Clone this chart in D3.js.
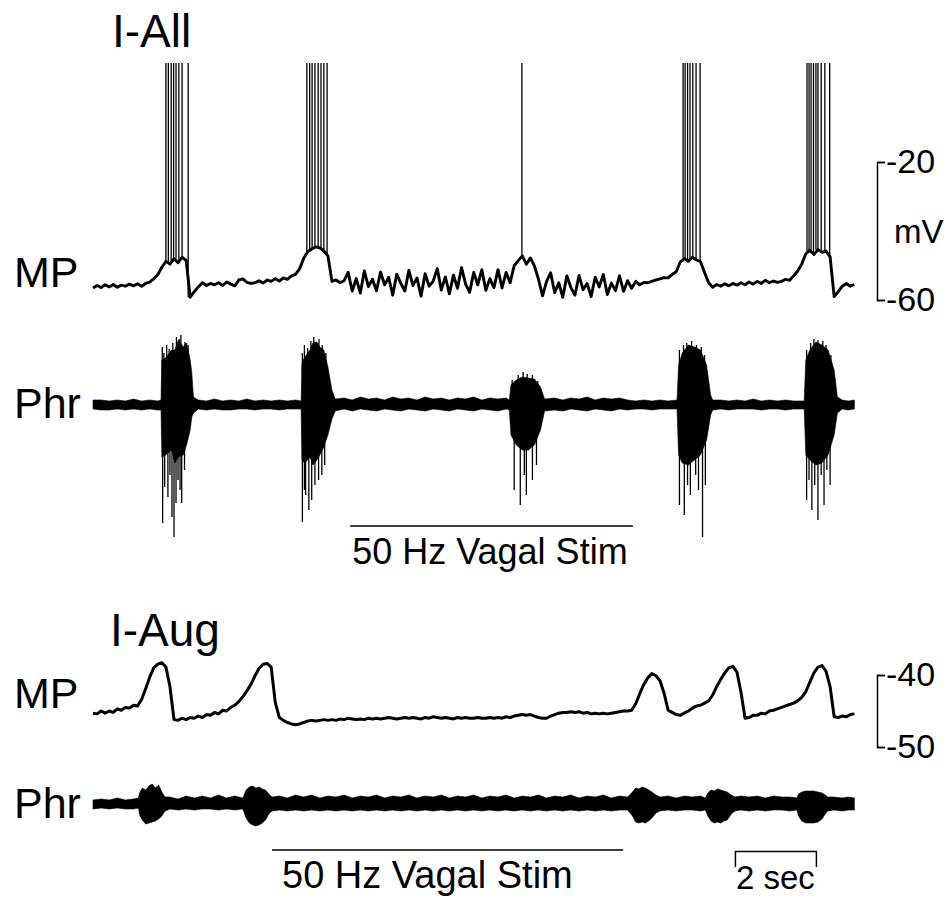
<!DOCTYPE html>
<html>
<head>
<meta charset="utf-8">
<script src="https://cdn.jsdelivr.net/npm/d3@7"></script>
<style>
    body { margin: 0; background: #fff; }
    svg text { font-family: "Liberation Sans", Arial, Helvetica, sans-serif; fill: #000; }
</style>
</head>
<body>
<div id="figure"></div>
<script>
// recordings are shown as samples every 0.1 s (MP) and as min/max envelopes (Phr)
const SAMPLE_DT = 0.1;
const TOTAL_SEC = 18.8;

// I-All membrane potential, mV
const iAllMP = [
    -56.5,-55.8,-56.4,-55.6,-56.2,-55.5,-56.3,-55.7,-56.0,-55.4,
    -55.9,-55.3,-56.0,-55.2,-54.8,-53.9,-52.6,-50.5,-48.8,-49.6,
    -48.0,-49.2,-47.6,-48.5,-59.2,-57.6,-56.2,-55.0,-55.8,-55.2,
    -55.6,-55.0,-55.8,-54.8,-55.4,-55.9,-54.2,-53.9,-54.9,-55.2,
    -55.0,-54.4,-55.1,-54.2,-54.6,-53.8,-54.5,-53.6,-54.0,-53.0,
    -52.6,-51.0,-48.0,-46.0,-45.2,-44.6,-44.9,-45.8,-47.2,-54.6,
    -54.2,-55.0,-54.4,-52.0,-57.4,-53.8,-58.0,-51.6,-56.1,-54.0,
    -57.3,-51.9,-55.6,-53.4,-58.6,-52.5,-55.2,-57.4,-51.4,-55.8,
    -53.6,-58.9,-52.4,-56.0,-54.5,-50.9,-57.1,-53.3,-58.2,-52.8,
    -56.6,-50.6,-55.4,-57.8,-52.0,-55.6,-51.2,-57.2,-53.8,-56.4,
    -51.2,-56.5,-52.0,-55.0,-50.0,-48.6,-47.2,-49.6,-47.8,-50.2,
    -54.0,-58.8,-54.6,-52.1,-57.9,-55.0,-59.2,-53.0,-56.4,-58.6,
    -52.9,-57.0,-55.2,-59.0,-53.4,-56.2,-52.6,-58.4,-55.1,-57.3,
    -53.0,-57.5,-54.4,-56.6,-54.6,-55.6,-54.9,-55.0,-54.6,-54.2,
    -53.9,-53.5,-53.6,-52.6,-51.8,-49.0,-48.0,-48.8,-47.6,-48.4,
    -48.9,-52.0,-55.0,-56.3,-55.5,-56.0,-55.3,-55.9,-55.2,-55.7,
    -55.0,-55.6,-54.8,-55.4,-54.6,-55.2,-54.3,-55.0,-54.5,-54.9,
    -54.6,-54.0,-54.3,-53.0,-51.6,-49.6,-46.6,-45.6,-46.8,-45.4,
    -46.2,-45.8,-47.5,-59.0,-57.6,-56.0,-55.2,-56.0,-55.5
];

// I-All action potentials: times (s), peak clipped at the top of the trace
const iAllSpikes = [
    1.80, 1.86, 1.93, 1.99, 2.05, 2.12, 2.20, 2.35,
    5.28, 5.35, 5.41, 5.48, 5.56, 5.63, 5.70, 5.78,
    10.59,
    14.57, 14.62, 14.68, 14.74, 14.81, 14.89, 14.99,
    17.63, 17.68, 17.73, 17.79, 17.85, 17.90, 17.98, 18.07, 18.19
];
const SPIKE_PEAK = 8.7;

// I-All phrenic nerve: [time s, max, min] in arbitrary units
const iAllPhr = [
    [0.0,5,-4],[0.2,5,-5],[0.4,4,-5],[0.6,5,-4],[0.8,4,-5],[1.0,6,-4],[1.2,4,-5],[1.4,5,-4],[1.6,4,-5],[1.68,5,-5],
    [1.70,45,-52],[1.79,47,-50],[1.94,55,-45],[2.02,55,-58],[2.11,65,-52],[2.23,58,-50],[2.31,62,-40],[2.40,45,-25],[2.44,32,-12],[2.48,8,-8],
    [2.6,5,-4],[2.8,4,-5],[3.0,6,-4],[3.2,4,-5],[3.4,5,-5],[3.6,4,-4],[3.8,6,-4],[4.0,4,-5],[4.2,5,-4],[4.4,4,-4],[4.6,5,-5],[4.8,4,-4],[5.0,5,-4],[5.14,4,-4],
    [5.16,42,-55],[5.23,48,-58],[5.36,55,-52],[5.43,62,-60],[5.53,63,-55],[5.60,58,-50],[5.70,55,-42],[5.80,38,-30],[5.90,15,-14],[5.98,6,-6],
    [6.2,7,-4],[6.4,5,-6],[6.6,8,-4],[6.8,6,-5],[7.0,7,-6],[7.2,5,-4],[7.4,8,-5],[7.6,6,-6],[7.8,7,-4],[8.0,5,-5],[8.2,8,-6],[8.4,6,-4],
    [8.6,7,-5],[8.8,5,-6],[9.0,7,-4],[9.2,6,-5],[9.4,8,-6],[9.6,5,-4],[9.8,7,-5],[10.0,6,-6],[10.2,7,-4],[10.28,5,-5],
    [10.32,20,-30],[10.45,25,-40],[10.6,28,-45],[10.75,27,-45],[10.9,26,-40],[11.05,18,-25],[11.15,6,-6],
    [11.4,7,-5],[11.6,5,-6],[11.8,7,-4],[12.0,6,-5],[12.2,8,-6],[12.4,5,-4],[12.6,7,-5],[12.8,6,-6],[13.0,7,-4],[13.2,5,-5],
    [13.4,4,-4],[13.6,5,-4],[13.8,4,-5],[14.0,5,-4],[14.2,4,-4],[14.42,5,-4],
    [14.46,40,-50],[14.55,52,-58],[14.7,60,-60],[14.85,58,-55],[15.0,55,-50],[15.15,40,-35],[15.25,10,-10],[15.3,5,-5],
    [15.5,5,-4],[15.7,4,-5],[15.9,5,-4],[16.1,4,-4],[16.3,6,-4],[16.5,4,-5],[16.7,5,-4],[16.9,4,-4],[17.1,5,-5],[17.3,4,-4],[17.56,4,-4],
    [17.6,45,-50],[17.7,55,-55],[17.85,63,-60],[18.0,60,-58],[18.15,55,-50],[18.3,35,-30],[18.38,8,-8],
    [18.5,5,-4],[18.65,4,-5],[18.8,5,-4]
];

// single large phrenic deflections inside the bursts: [time s, amplitude]
const iAllPhrSpikes = [
    [1.71,58],[1.75,52],[1.82,60],[1.88,56],[1.97,62],[2.06,68],[2.13,66],[2.17,70],[2.27,63],[2.35,60],
    [1.72,-118],[1.77,-82],[1.85,-92],[1.90,-70],[1.95,-112],[2.00,-132],[2.05,-98],[2.10,-75],[2.15,-85],[2.19,-98],[2.26,-65],
    [5.17,52],[5.22,60],[5.30,57],[5.38,64],[5.45,68],[5.50,62],[5.58,66],[5.66,60],[5.75,52],
    [5.17,-117],[5.22,-85],[5.25,-90],[5.33,-105],[5.40,-95],[5.48,-80],[5.57,-75],[5.65,-70],[5.72,-60],
    [10.35,25],[10.5,30],[10.62,33],[10.72,31],[10.85,30],[10.98,24],
    [10.40,-85],[10.55,-100],[10.65,-70],[10.70,-90],[10.85,-75],[10.95,-60],
    [14.48,55],[14.58,60],[14.66,62],[14.78,64],[14.9,60],[15.02,58],[15.1,50],
    [14.48,-100],[14.60,-110],[14.68,-80],[14.75,-90],[14.88,-70],[14.95,-85],[15.05,-132],[15.12,-80],
    [17.62,55],[17.72,62],[17.8,66],[17.9,65],[18.02,64],[18.1,60],[18.22,50],
    [17.62,-95],[17.68,-75],[17.75,-105],[17.82,-80],[17.90,-115],[17.98,-70],[18.05,-100],[18.12,-65],[18.20,-80]
];

// I-Aug membrane potential, mV
const iAugMP = [
    -45.3,-45.4,-45.0,-45.3,-45.0,-45.2,-44.7,-44.9,-44.5,-44.6,
    -44.2,-44.3,-43.4,-41.9,-40.3,-39.0,-38.5,-38.3,-38.9,-41.6,
    -46.2,-46.3,-46.0,-46.2,-45.9,-46.0,-45.7,-45.9,-45.5,-45.6,
    -45.2,-45.4,-44.9,-45.0,-44.5,-44.2,-43.7,-43.0,-42.2,-41.3,
    -40.1,-39.1,-38.5,-38.4,-38.9,-43.8,-45.9,-46.3,-46.6,-46.8,
    -46.9,-46.8,-46.6,-46.4,-46.3,-46.4,-46.3,-46.2,-46.3,-46.2,
    -46.3,-46.1,-46.2,-46.0,-46.1,-46.2,-46.1,-46.2,-46.0,-46.1,
    -46.0,-46.1,-46.0,-45.9,-46.0,-46.1,-46.0,-45.9,-46.0,-45.9,
    -46.0,-46.1,-45.9,-46.0,-45.8,-45.9,-46.0,-45.9,-46.0,-46.1,
    -45.9,-46.0,-45.9,-46.0,-46.0,-45.9,-46.0,-46.0,-45.9,-46.0,
    -45.9,-46.0,-45.8,-45.9,-45.7,-45.6,-45.5,-45.6,-45.5,-45.7,
    -45.9,-46.0,-46.0,-45.7,-45.5,-45.3,-45.2,-45.2,-45.1,-45.2,
    -45.1,-45.3,-45.2,-45.4,-45.3,-45.4,-45.3,-45.4,-45.3,-45.2,
    -45.1,-45.0,-45.0,-44.9,-44.0,-42.6,-41.3,-40.4,-39.8,-40.1,
    -40.8,-42.5,-44.9,-45.2,-45.5,-45.6,-45.3,-45.0,-44.6,-44.3,
    -44.2,-43.9,-43.6,-42.8,-41.6,-40.6,-39.7,-39.0,-38.8,-39.6,
    -42.4,-46.0,-45.9,-45.6,-45.6,-45.3,-45.4,-45.0,-44.9,-44.7,
    -44.5,-44.3,-44.1,-43.9,-43.6,-43.1,-42.3,-41.0,-39.7,-38.9,
    -38.7,-39.5,-41.6,-45.8,-45.9,-45.7,-45.8,-45.5,-45.4
];

// I-Aug phrenic nerve: [time s, max, min] in arbitrary units
const iAugPhr = [
    [0.0,4,-5],[0.2,5,-4],[0.4,4,-5],[0.6,6,-4],[0.8,4,-5],[1.0,5,-5],[1.12,6,-4],
    [1.16,12,-12],[1.22,16,-16],[1.30,14,-20],[1.38,18,-19],[1.46,20,-18],[1.54,16,-17],[1.62,19,-15],[1.70,12,-12],[1.78,7,-7],
    [1.9,7,-5],[2.1,5,-6],[2.3,8,-5],[2.5,6,-6],[2.7,8,-5],[2.9,6,-5],[3.1,9,-6],[3.3,6,-5],[3.5,8,-6],[3.7,6,-5],
    [3.78,14,-14],[3.86,17,-19],[3.94,18,-21],[4.02,16,-22],[4.10,17,-21],[4.18,15,-19],[4.26,14,-16],[4.34,10,-10],[4.42,7,-7],
    [4.6,8,-6],[4.8,6,-7],[5.0,9,-6],[5.2,7,-7],[5.4,9,-6],[5.6,6,-7],[5.8,8,-6],[6.0,7,-7],[6.2,9,-6],[6.4,6,-7],
    [6.6,8,-6],[6.8,7,-7],[7.0,9,-6],[7.2,6,-7],[7.4,8,-6],[7.6,7,-7],[7.8,9,-6],[8.0,6,-7],[8.2,8,-6],[8.4,7,-7],
    [8.6,9,-6],[8.8,6,-7],[9.0,8,-6],[9.2,7,-7],[9.4,9,-6],[9.6,6,-7],[9.8,8,-6],[10.0,7,-7],[10.2,9,-6],[10.4,6,-7],
    [10.6,8,-6],[10.8,7,-7],[11.0,9,-6],[11.2,6,-7],[11.4,8,-6],[11.6,7,-7],[11.8,9,-6],[12.0,6,-7],[12.2,8,-6],[12.4,7,-7],
    [12.6,9,-6],[12.8,6,-7],[13.0,8,-6],[13.2,7,-6],
    [13.32,12,-12],[13.40,16,-18],[13.48,15,-19],[13.56,17,-18],[13.64,16,-19],[13.72,14,-17],[13.80,12,-14],[13.90,9,-9],[14.0,7,-7],
    [14.2,8,-6],[14.4,6,-7],[14.6,8,-6],[14.8,7,-6],[15.0,8,-7],[15.12,6,-6],
    [15.18,11,-12],[15.26,14,-17],[15.34,13,-19],[15.42,15,-18],[15.50,14,-19],[15.58,13,-17],[15.66,12,-16],[15.76,9,-10],[15.85,7,-7],
    [16.0,8,-6],[16.2,7,-7],[16.4,8,-6],[16.6,6,-7],[16.8,8,-6],[17.0,7,-6],[17.2,7,-7],[17.38,6,-6],
    [17.42,10,-12],[17.50,12,-17],[17.60,13,-19],[17.70,13,-19],[17.80,13,-19],[17.90,12,-18],[18.00,11,-15],[18.08,9,-10],[18.14,7,-7],
    [18.3,7,-6],[18.5,6,-7],[18.65,7,-6],[18.8,6,-6]
];

// stimulus periods and scale bars
const stimAll = [6.35, 13.33];
const stimAug = [4.42, 13.09];
const timeBar = [15.85, 17.85];
const mvBarAll = [-60, -20];
const mvBarAug = [-50, -40];

class RecordingFigure {
    constructor(parentElement) {
        this.parentElement = parentElement;
        this.initVis();
    }

    initVis() {
        let vis = this;

        vis.width = 951;
        vis.height = 897;

        vis.svg = d3.select("#" + vis.parentElement).append("svg")
            .attr("width", vis.width)
            .attr("height", vis.height);

        // one time axis for both panels
        vis.x = d3.scaleLinear().domain([0, TOTAL_SEC]).range([93, 854.4]);

        vis.yMpAll = d3.scaleLinear().domain(mvBarAll).range([300, 162]);
        vis.yPhrAll = d3.scaleLinear().domain([-100, 100]).range([505, 305]);
        vis.yMpAug = d3.scaleLinear().domain(mvBarAug).range([747, 675]);
        vis.yPhrAug = d3.scaleLinear().domain([-100, 100]).range([904, 704]);

        vis.drawTraces();
        vis.drawLabels();
        vis.drawBars();
    }

    mpLine(y) {
        let vis = this;
        return d3.line()
            .x((d, i) => vis.x(i * SAMPLE_DT))
            .y(d => y(d));
    }

    phrArea(y) {
        let vis = this;
        return d3.area()
            .x(d => vis.x(d[0]))
            .y0(d => y(d[2]))
            .y1(d => y(d[1]));
    }

    drawTraces() {
        let vis = this;

        // I-All spikes first, MP drawn on top
        vis.svg.append("g").selectAll("line")
            .data(iAllSpikes)
            .join("line")
            .attr("x1", d => vis.x(d))
            .attr("x2", d => vis.x(d))
            .attr("y1", d => vis.yMpAll(iAllMP[Math.round(d / SAMPLE_DT)]))
            .attr("y2", vis.yMpAll(SPIKE_PEAK))
            .attr("stroke", "#000")
            .attr("stroke-width", 1.3);

        vis.svg.append("path")
            .datum(iAllMP)
            .attr("d", vis.mpLine(vis.yMpAll))
            .attr("fill", "none")
            .attr("stroke", "#000")
            .attr("stroke-width", 2.9)
            .attr("stroke-linejoin", "round");

        vis.svg.append("path")
            .datum(iAllPhr)
            .attr("d", vis.phrArea(vis.yPhrAll))
            .attr("fill", "#000")
            .attr("stroke", "#000")
            .attr("stroke-width", 0.6);

        vis.svg.append("g").selectAll("line")
            .data(iAllPhrSpikes)
            .join("line")
            .attr("x1", d => vis.x(d[0]))
            .attr("x2", d => vis.x(d[0]))
            .attr("y1", vis.yPhrAll(0))
            .attr("y2", d => vis.yPhrAll(d[1]))
            .attr("stroke", "#000")
            .attr("stroke-width", 1.3);

        vis.svg.append("path")
            .datum(iAugMP)
            .attr("d", vis.mpLine(vis.yMpAug))
            .attr("fill", "none")
            .attr("stroke", "#000")
            .attr("stroke-width", 3)
            .attr("stroke-linejoin", "round");

        vis.svg.append("path")
            .datum(iAugPhr)
            .attr("d", vis.phrArea(vis.yPhrAug))
            .attr("fill", "#000")
            .attr("stroke", "#000")
            .attr("stroke-width", 0.6);
    }

    drawLabels() {
        let vis = this;

        const labels = [
            {text: "I-All", x: 112, y: 47, size: 46},
            {text: "MP", x: 14, y: 287, size: 43},
            {text: "Phr", x: 14, y: 418, size: 43},
            {text: "I-Aug", x: 110, y: 646, size: 46},
            {text: "MP", x: 14, y: 708, size: 43},
            {text: "Phr", x: 14, y: 818, size: 43}
        ];

        vis.svg.append("g").selectAll("text")
            .data(labels)
            .join("text")
            .attr("x", d => d.x)
            .attr("y", d => d.y)
            .attr("font-size", d => d.size)
            .text(d => d.text);
    }

    drawBars() {
        let vis = this;

        // mV brackets
        [[vis.yMpAll, mvBarAll, true], [vis.yMpAug, mvBarAug, false]].forEach(([y, ticks, withUnit]) => {
            let g = vis.svg.append("g")
                .attr("class", "mv-bar")
                .attr("transform", "translate(877,0)")
                .call(d3.axisRight(y)
                    .tickValues(ticks)
                    .tickSize(8)
                    .tickSizeOuter(8)
                    .tickPadding(1)
                    .tickFormat(d => String(d)));
            g.attr("font-family", null).attr("font-size", 34);
            g.selectAll("path, line").attr("stroke-width", 1.5);
            if (withUnit) {
                g.append("text")
                    .attr("x", 17)
                    .attr("y", y(d3.mean(ticks)))
                    .attr("dy", "0.35em")
                    .attr("font-size", 33)
                    .text("mV");
            }
        });

        // stimulus bars
        [[stimAll, 526, 2, 36], [stimAug, 850, 10, 38]].forEach(([stim, yy, dx, size]) => {
            vis.svg.append("line")
                .attr("x1", vis.x(stim[0]))
                .attr("x2", vis.x(stim[1]))
                .attr("y1", yy)
                .attr("y2", yy)
                .attr("stroke", "#000")
                .attr("stroke-width", 1.5);
            vis.svg.append("text")
                .attr("x", vis.x(stim[0]) + dx)
                .attr("y", yy + 38)
                .attr("font-size", size)
                .text("50 Hz Vagal Stim");
        });

        // time scale bar
        let tScale = d3.scaleLinear().domain(timeBar).range(timeBar.map(vis.x));
        let tg = vis.svg.append("g")
            .attr("transform", "translate(0,851)")
            .call(d3.axisBottom(tScale).tickValues([]).tickSizeOuter(16));
        tg.select(".domain").attr("stroke-width", 1.5);
        vis.svg.append("text")
            .attr("x", d3.mean(timeBar.map(vis.x)))
            .attr("y", 889)
            .attr("text-anchor", "middle")
            .attr("font-size", 33)
            .text("2 sec");
    }
}

new RecordingFigure("figure");
</script>
</body>
</html>
